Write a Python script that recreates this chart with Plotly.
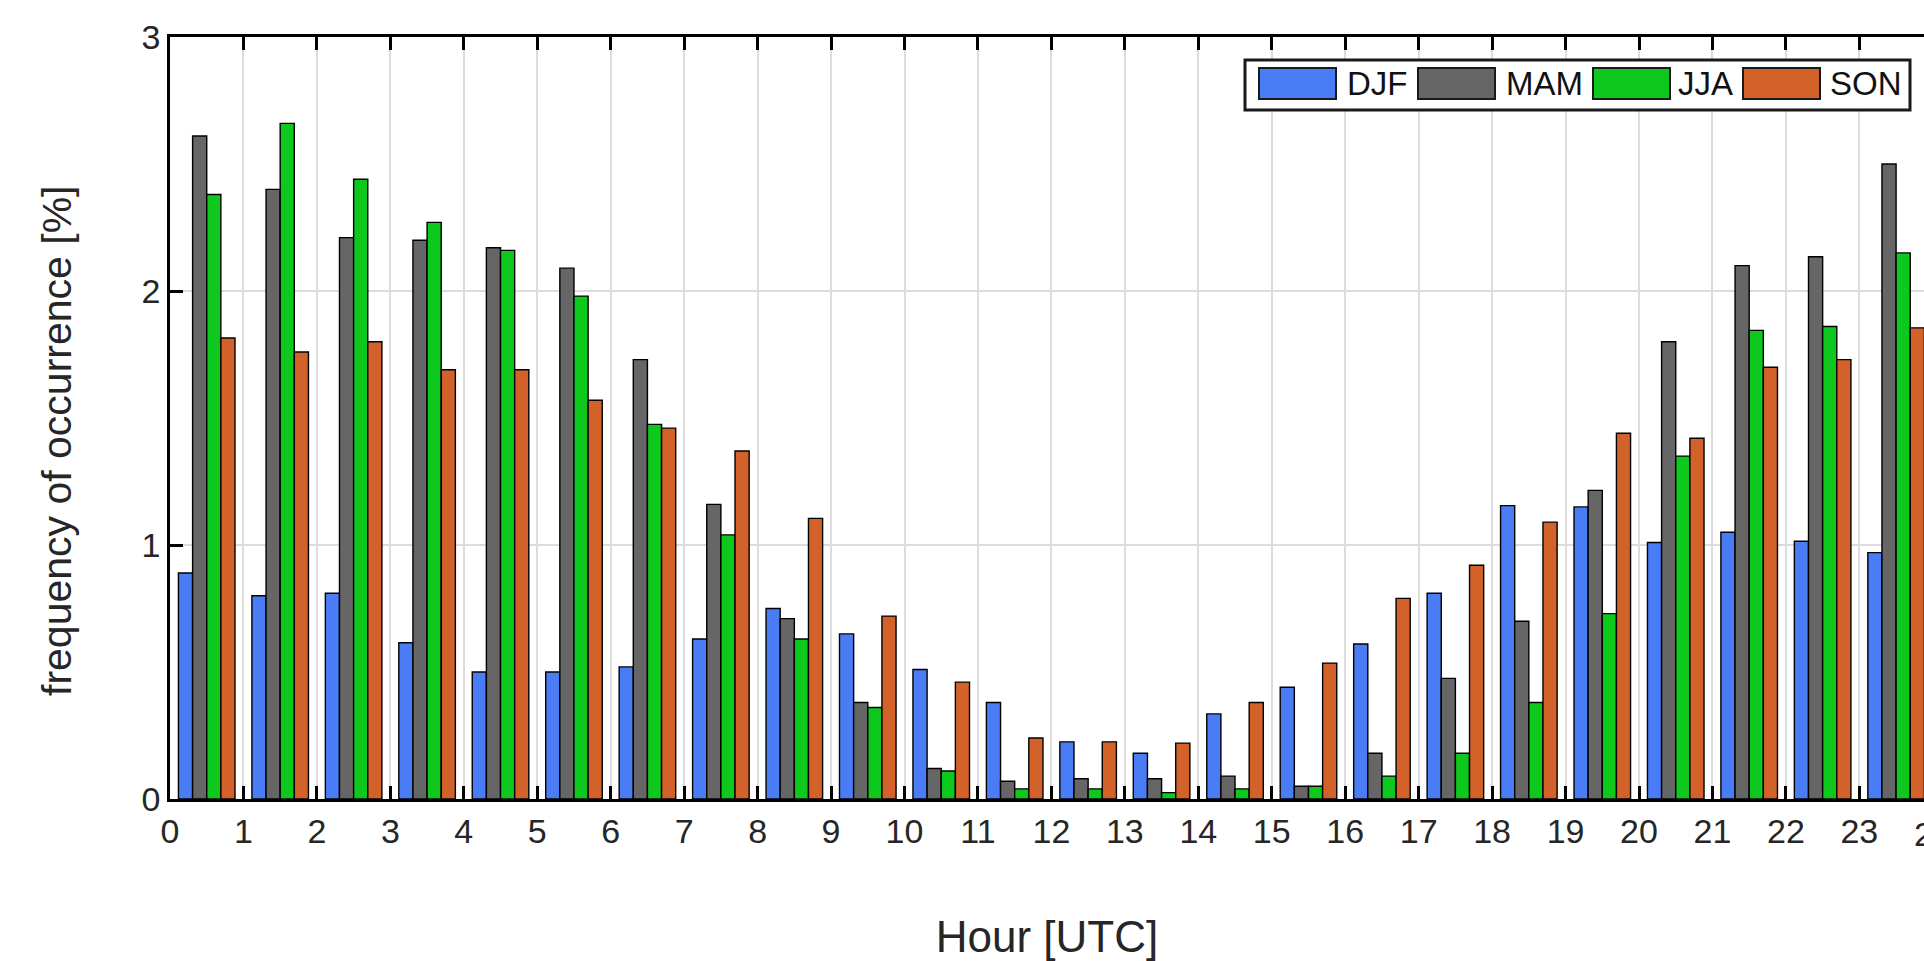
import plotly.graph_objects as go

hours = list(range(24))
tick_labels = [str(h) for h in range(25)]
seasons = ["DJF", "MAM", "JJA", "SON"]

djf = [0.89, 0.80, 0.81, 0.615, 0.50, 0.50, 0.52, 0.63, 0.75, 0.65, 0.51, 0.38,
       0.225, 0.18, 0.335, 0.44, 0.61, 0.81, 1.155, 1.15, 1.01, 1.05, 1.015, 0.97]
mam = [2.61, 2.40, 2.21, 2.20, 2.17, 2.09, 1.73, 1.16, 0.71, 0.38, 0.12, 0.07,
       0.08, 0.08, 0.09, 0.05, 0.18, 0.475, 0.70, 1.215, 1.80, 2.10, 2.135, 2.50]
jja = [2.38, 2.66, 2.44, 2.27, 2.16, 1.98, 1.475, 1.04, 0.63, 0.36, 0.11, 0.04,
       0.04, 0.025, 0.04, 0.05, 0.09, 0.18, 0.38, 0.73, 1.35, 1.845, 1.86, 2.15]
son = [1.815, 1.76, 1.80, 1.69, 1.69, 1.57, 1.46, 1.37, 1.105, 0.72, 0.46, 0.24,
       0.225, 0.22, 0.38, 0.535, 0.79, 0.92, 1.09, 1.44, 1.42, 1.70, 1.73, 1.855]

colors = ["#4A7DF5", "#666666", "#0EC81E", "#D2622A"]
series = [djf, mam, jja, son]

W, H = 1924, 961
L, R, T, B = 170, 0, 37, 162
XMAX = 23.88
FONT = "Liberation Sans, Arial, Helvetica, sans-serif"
TXT = "#262626"

fig = go.Figure()
for name, vals, col in zip(seasons, series, colors):
    fig.add_trace(go.Bar(
        x=[h + 0.5 for h in hours], y=vals, name=name,
        marker=dict(color=col, line=dict(color="black", width=1.4)),
        showlegend=False,
    ))

fig.update_layout(
    width=W, height=H,
    margin=dict(l=L, r=R, t=T, b=B, autoexpand=False),
    paper_bgcolor="white", plot_bgcolor="white",
    barmode="group", bargap=0.23, bargroupgap=0.0,
    font=dict(family=FONT, color=TXT, size=34),
)
fig.update_xaxes(
    range=[0, XMAX], tickmode="array", tickvals=list(range(25)), ticktext=tick_labels,
    ticks="inside", ticklen=13, tickwidth=2.5, tickcolor="black",
    showline=True, linewidth=2.5, linecolor="black", mirror="ticks",
    showgrid=True, gridcolor="#dcdcdc", gridwidth=1.5, zeroline=False,
    tickfont=dict(size=34, color=TXT),
    title=dict(text="Hour [UTC]", font=dict(size=44, color=TXT), standoff=76),
    automargin=False,
)
fig.update_yaxes(
    range=[0, 3], tickmode="array", tickvals=[0, 1, 2, 3],
    ticks="inside", ticklen=13, tickwidth=2.5, tickcolor="black",
    showline=True, linewidth=2.5, linecolor="black", mirror=False,
    showgrid=True, gridcolor="#dcdcdc", gridwidth=1.5, zeroline=False,
    tickfont=dict(size=34, color=TXT),
    automargin=False,
)

pw, ph = W - L - R, H - T - B
def px(x):
    return (x - L) / pw
def py(y):
    return (H - B - y) / ph

# y-axis title (placed slightly below the plot centre, as in the reference)
fig.add_annotation(
    x=px(57), y=py(441), xref="paper", yref="paper", xanchor="center", yanchor="middle",
    text="frequency of occurrence [%]", textangle=-90, showarrow=False,
    font=dict(size=41, color=TXT),
)

# partially visible "24" label at the right edge (axis continues beyond the frame)
fig.add_annotation(
    x=24 / XMAX, xref="paper", y=0, yref="paper", xanchor="center", yanchor="top",
    yshift=-14, text=tick_labels[24], showarrow=False, font=dict(size=34, color=TXT),
)

# custom legend (large swatches, as in the reference)
fig.add_shape(type="rect", xref="paper", yref="paper",
              x0=px(1245), x1=px(1910), y0=py(110), y1=py(60),
              line=dict(color="#1a1a1a", width=3), fillcolor="white", layer="above")
sw_left = [1259, 1418, 1593, 1743]
txt_left = [1345, 1504, 1676, 1828]
for name, col, sx, tx in zip(seasons, colors, sw_left, txt_left):
    fig.add_shape(type="rect", xref="paper", yref="paper",
                  x0=px(sx), x1=px(sx + 77), y0=py(99), y1=py(68),
                  line=dict(color="#1a1a1a", width=2), fillcolor=col, layer="above")
    fig.add_annotation(x=px(tx), y=py(84), xref="paper", yref="paper",
                       xanchor="left", yanchor="middle", text=name, showarrow=False,
                       font=dict(size=33, color="#111111"))

fig.write_html("out.html")
